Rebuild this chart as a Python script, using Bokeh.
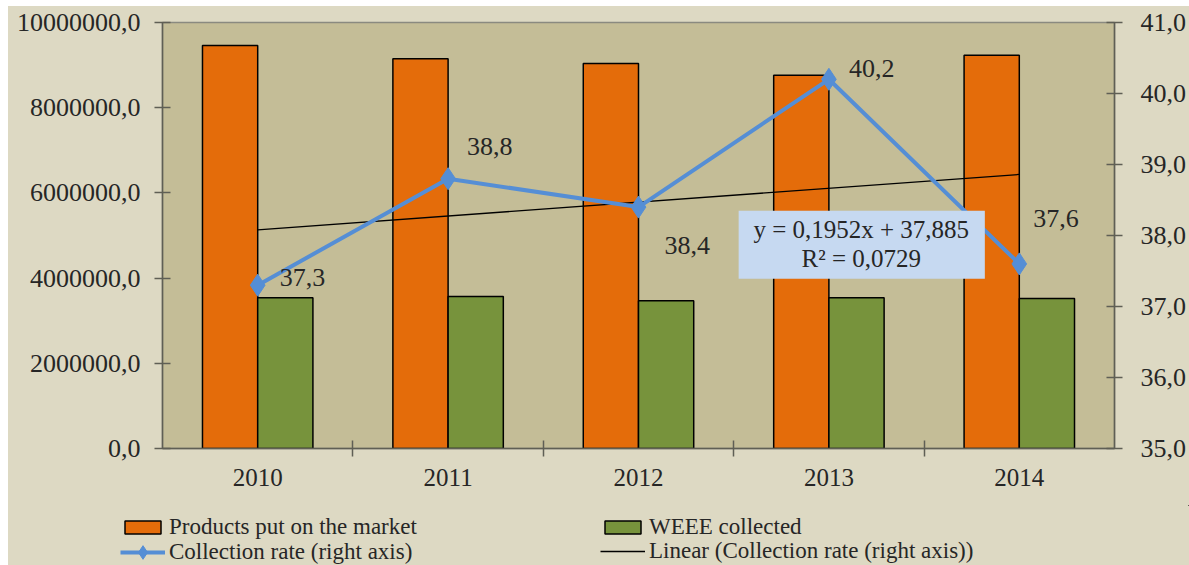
from bokeh.plotting import figure
from bokeh.layouts import column
from bokeh.models import (Range1d, LinearAxis, FixedTicker, Legend, LegendItem,
                          BoxAnnotation, Label, ColumnDataSource)
from bokeh.transform import dodge
from bokeh.embed import file_html
from bokeh.resources import INLINE
from bokeh.core.properties import value

# ---------------- data ----------------
years = ["2010", "2011", "2012", "2013", "2014"]
products = [9460000, 9150000, 9040000, 8760000, 9230000]
weee = [3540000, 3570000, 3470000, 3540000, 3520000]
rate = [37.3, 38.8, 38.4, 40.2, 37.6]
rate_labels = ["37,3", "38,8", "38,4", "40,2", "37,6"]
trend_x = [1, 5]
trend_y = [38.08, 38.86]  # y = 0,1952x + 37,885
left_ticks = [0, 2000000, 4000000, 6000000, 8000000, 10000000]
left_labels = ["0,0", "2000000,0", "4000000,0", "6000000,0", "8000000,0", "10000000,0"]
right_ticks = [35, 36, 37, 38, 39, 40, 41]
right_labels = ["35,0", "36,0", "37,0", "38,0", "39,0", "40,0", "41,0"]
eq_line1 = "y = 0,1952x + 37,885"
eq_line2 = "R\u00b2 = 0,0729"
legend_labels = ["Products put on the market", "Collection rate (right axis)",
                 "WEEE collected", "Linear (Collection rate (right axis))"]

# ---------------- styling ----------------
FONT = "Liberation Serif"
TXT = "#262626"
ORANGE = "#e46c0a"
GREEN = "#77933c"
BLUE = "#558ed5"
OUTER = "#ddd9c3"
INNER = "#c4bd97"
AXIS = "#5f5f55"

xs = list(range(1, len(years) + 1))
label_dx = [22, 19, 26, 20, 14]
label_dy = [-8, -32, 38, -11, -45]

src = ColumnDataSource(dict(x=xs, products=products, weee=weee, rate=rate,
                            labels=rate_labels, dx=label_dx, dy=label_dy))

p = figure(width=1181, height=499, x_range=Range1d(0.5, 5.5), y_range=Range1d(0, 10000000),
           output_backend="svg", toolbar_location=None,
           min_border_left=154, min_border_right=72, min_border_top=16, min_border_bottom=57)
p.extra_y_ranges = {"rate": Range1d(35, 41)}

p.background_fill_color = INNER
p.border_fill_color = OUTER
p.outline_line_color = "#8a8a80"
p.outline_line_width = 1.5
p.xgrid.visible = False
p.ygrid.visible = False

# left axis
ya = p.yaxis[0]
ya.ticker = FixedTicker(ticks=left_ticks, minor_ticks=[])
ya.major_label_overrides = {t: l for t, l in zip(left_ticks, left_labels)}
# right axis
ra = LinearAxis(y_range_name="rate", ticker=FixedTicker(ticks=right_ticks, minor_ticks=[]))
ra.major_label_overrides = {t: l for t, l in zip(right_ticks, right_labels)}
p.add_layout(ra, "right")
# bottom axis
xa = p.xaxis[0]
xa.ticker = FixedTicker(ticks=xs, minor_ticks=[1.5, 2.5, 3.5, 4.5])
xa.major_label_overrides = {x: y for x, y in zip(xs, years)}

for ax in (ya, ra):
    ax.major_tick_in = 8
    ax.major_tick_out = 8
    ax.major_label_standoff = 14
ra.major_label_standoff = 18
xa.major_tick_in = 0
xa.major_tick_out = 0
xa.minor_tick_in = 8
xa.minor_tick_out = 8
xa.major_label_standoff = 12
for ax in (ya, ra, xa):
    ax.axis_line_color = AXIS
    ax.axis_line_width = 1.5
    ax.major_tick_line_color = AXIS
    ax.major_tick_line_width = 1.5
    ax.minor_tick_line_color = AXIS if ax is xa else None
    ax.minor_tick_line_width = 1.5
    ax.major_label_text_font = FONT
    ax.major_label_text_font_size = "26px"
    ax.major_label_text_color = TXT
xa.major_label_text_font_size = "25px"

# bars
r_prod = p.vbar(x=dodge("x", -0.145), top="products", width=0.29, source=src,
                fill_color=ORANGE, line_color="black", line_width=1.5)
r_weee = p.vbar(x=dodge("x", 0.145), top="weee", width=0.29, source=src,
                fill_color=GREEN, line_color="black", line_width=1.5)

# trend line
r_trend = p.line(trend_x, trend_y, y_range_name="rate", line_color="black", line_width=1.3)

# collection rate
r_line = p.line("x", "rate", source=src, y_range_name="rate", line_color=BLUE, line_width=4)
r_pts = p.scatter("x", "rate", source=src, y_range_name="rate", marker="diamond", size=22,
                  fill_color=BLUE, line_color=BLUE)

p.text("x", "rate", text="labels", source=src, y_range_name="rate",
       x_offset="dx", y_offset="dy", text_font=value(FONT), text_font_size="26px",
       text_color=TXT, text_align="left", text_baseline="middle")

# equation box
box = BoxAnnotation(left=3.526, right=4.819, top=38.35, bottom=37.39, y_range_name="rate",
                    fill_color="#c6d9f1", fill_alpha=1.0, line_color=None, level="overlay")
p.add_layout(box)
p.add_layout(Label(x=4.17, y=38.085, y_range_name="rate", text=eq_line1, text_font=FONT,
                   text_font_size="25px", text_color=TXT, text_align="center",
                   text_baseline="middle", level="overlay"))
p.add_layout(Label(x=4.17, y=37.676, y_range_name="rate", text=eq_line2, text_font=FONT,
                   text_font_size="25px", text_color=TXT, text_align="center",
                   text_baseline="middle", level="overlay"))

# ---------------- legend strip ----------------
# same data, but the strip's ranges keep its glyphs out of view: only the legend shows
lf = figure(width=1181, height=60, x_range=Range1d(-3, -2), y_range=Range1d(-3, -2),
            output_backend="svg", toolbar_location=None, min_border=0)
for pl in (p, lf):
    if "frame_align" in pl.properties():
        pl.frame_align = False
lf.axis.visible = False
lf.grid.visible = False
lf.outline_line_color = None
lf.background_fill_color = OUTER
lf.border_fill_color = OUTER

l_prod = lf.vbar(x="x", top="products", width=0.29, source=src,
                 fill_color=ORANGE, line_color="black", line_width=1.5)
l_weee = lf.vbar(x="x", top="weee", width=0.29, source=src,
                 fill_color=GREEN, line_color="black", line_width=1.5)
l_line = lf.line("x", "rate", source=src, line_color=BLUE, line_width=4)
l_pts = lf.scatter("x", "rate", source=src, marker="diamond", size=16,
                   fill_color=BLUE, line_color=BLUE)
l_trend = lf.line(trend_x, trend_y, line_color="black", line_width=1.3)


def make_legend(label, renderers, loc, gh=16):
    return Legend(items=[LegendItem(label=label, renderers=renderers)], location=loc,
                  label_text_font=FONT, label_text_font_size="23px", label_text_color=TXT,
                  glyph_width=45, glyph_height=gh, label_height=24, label_standoff=4,
                  spacing=0, padding=0, margin=0,
                  background_fill_alpha=0, border_line_color=None)


lf.add_layout(make_legend(legend_labels[0], [l_prod], (112, 25)))
lf.add_layout(make_legend(legend_labels[1], [l_line, l_pts], (112, -4), gh=34))
lf.add_layout(make_legend(legend_labels[2], [l_weee], (592, 25)))
lf.add_layout(make_legend(legend_labels[3], [l_trend], (592, 1)))

layout = column(p, lf, spacing=0, margin=(6, 0, 0, 8),
                styles={"background-color": OUTER})
open("out.html", "w").write(file_html(layout, INLINE))
